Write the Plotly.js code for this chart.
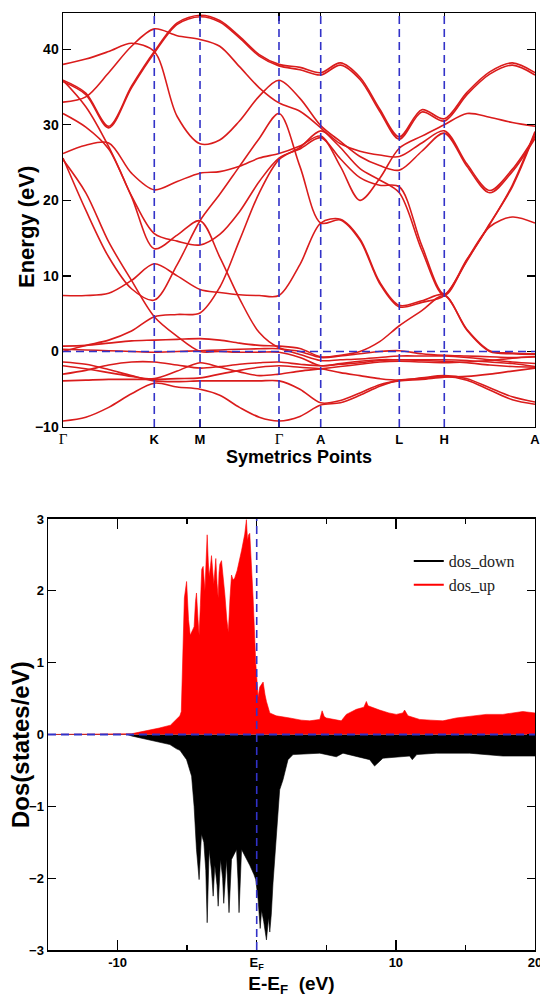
<!DOCTYPE html>
<html>
<head>
<meta charset="utf-8">
<script src="https://cdn.plot.ly/plotly-3.0.1.min.js"></script>
<style>html,body{margin:0;padding:0;background:#fff;}#chart{width:540px;height:1007px;}</style>
</head>
<body>
<div id="chart"></div>
<script>
// ---------- Band structure data ----------
// k-path coordinate (fraction of path length) for each sampled point
const kGrid = [0, 0.0483, 0.0968, 0.1451, 0.1934, 0.2419, 0.2903, 0.3321, 0.3739, 0.4158, 0.4576,
               0.5019, 0.5460, 0.5876, 0.6292, 0.6709, 0.7125, 0.7602, 0.8078, 0.8559, 0.9040, 0.9519, 1.0];
const kTicks = [0, 0.1934, 0.2903, 0.4576, 0.5460, 0.7125, 0.8078, 1.0];
const kLabels = ['Γ', 'K', 'M', 'Γ', 'A', 'L', 'H', 'A'];

// band energies (eV) at kGrid points
const bandA  = [38.0, 38.7, 39.7, 40.8, 39.7, 31.1, 27.5, 28.0, 30.5, 33.8, 35.9, 33.5, 29.9, 27.8, 25.8, 24.6, 24.0, 26.5, 28.9, 24.5, 21.0, 23.8, 28.2];
const bandB  = [33.0, 33.7, 36.9, 40.4, 42.7, 41.8, 41.3, 40.4, 37.7, 34.9, 32.9, 31.8, 29.6, 27.0, 24.2, 22.7, 21.0, 13.4, 7.4, 12.1, 16.8, 22.0, 29.1];
const bandC  = [35.9, 34.2, 29.8, 35.1, 39.7, 43.5, 44.5, 43.8, 41.7, 39.3, 38.0, 37.6, 36.9, 38.2, 36.3, 32.1, 28.4, 32.0, 30.8, 34.3, 37.0, 38.2, 36.9];
const bandC2 = [35.7, 34.0, 29.6, 34.9, 39.5, 43.3, 44.3, 43.6, 41.5, 39.1, 37.8, 37.3, 36.6, 37.9, 36.0, 31.8, 28.1, 31.7, 30.5, 34.0, 36.7, 37.9, 36.6];
const bandD  = [31.5, 29.7, 26.8, 20.6, 15.6, 14.6, 14.1, 15.5, 18.5, 22.5, 25.6, 26.8, 28.3, 25.5, 23.0, 22.0, 21.8, 14.0, 7.6, 12.2, 16.5, 17.8, 17.0];
const bandE  = [35.9, 32.4, 27.1, 20.5, 13.6, 15.4, 17.3, 12.5, 7.0, 2.5, 0.5, 0.0, -0.8, -0.6, -0.3, 0.0, 0.1, -0.3, -0.5, -0.6, -0.7, -0.8, -0.7];
const bandF  = [26.2, 27.3, 27.6, 23.6, 21.4, 22.5, 23.6, 23.8, 24.5, 25.6, 26.2, 27.2, 28.5, 24.5, 20.0, 22.9, 26.9, 28.5, 30.0, 31.5, 31.0, 30.3, 29.8];
const bandG  = [25.6, 18.7, 12.5, 8.3, 6.8, 11.5, 17.3, 20.8, 24.5, 28.2, 31.5, 24.5, 17.0, 17.4, 14.7, 9.0, 5.9, 6.5, 7.4, 12.0, 16.9, 21.8, 28.9];
const bandH  = [25.4, 21.0, 14.5, 9.4, 4.6, 2.0, 0.0, 0.0, -0.1, -0.1, -0.1, -0.8, -1.9, -1.6, -1.3, -1.1, -1.1, -1.1, -1.1, -1.2, -1.4, -1.6, -2.0];
const bandI  = [7.4, 7.4, 7.7, 9.4, 11.6, 10.0, 8.2, 7.8, 7.5, 7.4, 7.4, 11.5, 17.0, 17.5, 14.9, 9.2, 6.1, 6.7, 7.5, 2.8, 0.0, -0.3, -0.4];
const bandJ  = [0.0, 0.8, 1.5, 2.7, 4.6, 4.9, 5.1, 8.5, 14.7, 21.0, 25.4, 27.0, 29.2, 27.5, 26.5, 26.0, 25.8, 27.6, 29.2, 24.8, 21.3, 24.1, 28.5];
const bandK  = [0.7, 0.8, 1.1, 1.4, 1.5, 1.6, 1.7, 1.5, 1.1, 0.8, 0.7, 0.4, -0.7, -0.5, 0.0, 1.3, 3.4, 5.4, 7.4, 2.9, 0.1, -0.2, -0.3];
const bandL  = [0.3, 0.2, 0.1, 0.0, -0.1, 0.0, 0.1, 0.2, 0.3, 0.35, 0.35, -0.4, -1.2, -1.1, -1.0, -0.8, -0.6, -0.6, -0.6, -0.8, -1.1, -1.4, -1.6];
const bandM  = [-1.4, -1.7, -2.4, -3.2, -3.9, -4.0, -3.9, -3.9, -3.9, -3.9, -3.9, -5.0, -6.8, -6.5, -5.5, -4.4, -3.9, -3.7, -3.4, -3.3, -3.0, -2.6, -2.2];
const bandN  = [-1.9, -2.3, -2.8, -3.3, -3.6, -2.6, -1.5, -2.1, -2.7, -3.2, -3.0, -2.6, -2.3, -2.0, -1.7, -1.4, -1.3, -1.4, -1.5, -1.4, -1.2, -0.9, -0.7];
const bandO  = [-3.0, -2.5, -1.8, -1.4, -1.4, -1.8, -2.2, -2.0, -1.7, -1.5, -1.4, -1.7, -1.9, -1.7, -1.5, -1.2, -1.1, -1.2, -1.3, -1.5, -1.8, -2.0, -2.1];
const bandP  = [-3.9, -3.8, -3.7, -3.7, -3.7, -3.6, -3.5, -3.0, -2.5, -2.1, -1.9, -2.1, -2.3, -2.8, -3.2, -3.6, -3.8, -3.5, -3.2, -3.6, -4.8, -6.0, -6.7];
const bandQ  = [-9.2, -8.7, -7.4, -5.6, -4.2, -4.7, -5.0, -5.8, -7.4, -8.7, -9.2, -8.6, -7.1, -6.8, -5.8, -4.6, -3.8, -3.6, -3.3, -3.8, -5.1, -6.4, -7.0];

const bands = [bandA, bandB, bandC, bandC2, bandD, bandE, bandF, bandG, bandH, bandI, bandJ,
               bandK, bandL, bandM, bandN, bandO, bandP, bandQ];

// ---------- DOS data ----------
const dosUpE = [-15, -9.3, -9.0, -8.5, -7.7, -7.0, -6.2, -5.8, -5.52, -5.42, -5.3, -5.2, -5.04, -4.9, -4.78, -4.68, -4.5, -4.4, -4.33,
  -4.22, -4.14, -4.05, -3.95, -3.85, -3.72, -3.62, -3.56, -3.48, -3.42, -3.32, -3.25, -3.15, -3.08, -3.0, -2.94, -2.85, -2.77,
  -2.71, -2.65, -2.53, -2.4, -2.29, -2.15, -2.04, -1.92, -1.81, -1.7, -1.58, -1.41, -1.25, -1.09, -0.86, -0.74, -0.66, -0.58,
  -0.5, -0.38, -0.26, -0.07, 0.1, 0.22, 0.46, 0.6, 0.7, 0.94, 1.4, 2.37, 3.2, 3.81, 4.53, 4.7, 4.85, 5.0, 5.72, 6.08, 6.44,
  7.16, 7.7, 7.88, 8.0, 8.12, 8.83, 9.5, 10.03, 10.5, 10.63, 10.87, 11.71, 12.5, 13.38, 14.34, 15.29, 16.49, 17.69, 18.5, 19.12, 20];
const dosUp = [0, 0, 0.01, 0.03, 0.06, 0.09, 0.13, 0.2, 0.26, 0.32, 1.2, 1.9, 2.13, 1.6, 1.38, 1.42, 1.5, 1.85, 1.97,
  1.6, 1.38, 1.8, 2.3, 2.34, 2.0, 2.5, 2.78, 2.4, 2.2, 2.35, 2.49, 2.25, 2.1, 2.3, 2.45, 2.1, 1.9,
  2.25, 2.37, 2.42, 2.2, 1.95, 1.6, 1.42, 1.9, 2.22, 2.15, 2.18, 2.28, 2.4, 2.56, 2.79, 2.99, 2.7, 2.78,
  2.8, 2.4, 1.9, 1.0, 0.52, 0.66, 0.73, 0.55, 0.46, 0.3, 0.26, 0.23, 0.2, 0.19, 0.21, 0.33, 0.25, 0.23, 0.21, 0.19, 0.28,
  0.35, 0.38, 0.46, 0.4, 0.39, 0.34, 0.3, 0.28, 0.3, 0.34, 0.26, 0.21, 0.2, 0.19, 0.23, 0.25, 0.28, 0.28, 0.3, 0.32, 0.3];

const dosDownE = [-15, -9.3, -9.0, -8.0, -7.0, -6.24, -5.76, -5.52, -5.04, -4.68, -4.5, -4.33, -4.14, -3.97, -3.8, -3.66, -3.56,
  -3.42, -3.25, -3.13, -3.01, -2.85, -2.77, -2.6, -2.45, -2.37, -2.17, -2.06, -1.99, -1.81, -1.6, -1.45, -1.35, -1.27, -1.09,
  -0.8, -0.5, -0.2, -0.07, 0.1, 0.25, 0.35, 0.5, 0.7, 0.85, 0.94, 1.05, 1.17, 1.42, 1.65, 1.89, 2.25, 2.61, 4.53, 5.72, 6.2,
  8.12, 8.47, 9.07, 10.99, 11.18, 11.5, 12.9, 15.29, 17.69, 20];
const dosDown = [0, 0, -0.02, -0.06, -0.1, -0.14, -0.2, -0.22, -0.35, -0.58, -1.0, -1.6, -2.02, -1.39, -1.5, -1.89, -2.62,
  -1.6, -1.9, -2.25, -1.82, -2.1, -2.39, -1.74, -2.0, -2.35, -1.74, -2.1, -2.48, -1.74, -1.65, -1.6, -2.0, -2.48, -1.6,
  -1.7, -1.82, -1.95, -2.02, -2.3, -2.7, -2.45, -2.6, -2.86, -2.55, -2.75, -2.5, -2.07, -1.39, -0.77, -0.63, -0.35, -0.28, -0.26, -0.31, -0.26,
  -0.35, -0.44, -0.33, -0.3, -0.35, -0.28, -0.26, -0.26, -0.3, -0.3];

const dosTickVals = [-10, 0, 10, 20];
const dosTickText = ['-10', 'E<sub>F</sub>', '10', '20'];
const dosMinorTicks = [-5, 5, 15];
const energyTicks = [-10, 0, 10, 20, 30, 40];
const dosYTicks = [-3, -2, -1, 0, 1, 2, 3];

// ---------- Styles ----------
const RED = 'rgb(218,28,28)';
const BLUE = 'rgb(50,50,200)';
const SANS = 'Liberation Sans, Arial, sans-serif';
const SERIF = 'Liberation Serif, Times New Roman, serif';
const tickFont = {family: SANS, size: 13, color: '#000', weight: 'bold'};

const traces = [];
bands.forEach(b => {
  traces.push({
    x: kGrid, y: b, xaxis: 'x', yaxis: 'y', type: 'scatter', mode: 'lines',
    line: {color: RED, width: 1.6, shape: 'spline', smoothing: 0.9},
    showlegend: false, hoverinfo: 'skip'
  });
});

traces.push({
  x: dosDownE, y: dosDown, xaxis: 'x2', yaxis: 'y2', type: 'scatter', mode: 'lines',
  fill: 'tozeroy', fillcolor: '#000', line: {color: '#000', width: 0.6},
  name: 'dos_down', showlegend: false, hoverinfo: 'skip'
});
traces.push({
  x: dosUpE, y: dosUp, xaxis: 'x2', yaxis: 'y2', type: 'scatter', mode: 'lines',
  fill: 'tozeroy', fillcolor: 'rgb(255,0,0)', line: {color: 'rgb(255,0,0)', width: 0.6},
  name: 'dos_up', showlegend: false, hoverinfo: 'skip'
});
// legend entries (line samples)
traces.push({x: [null], y: [null], xaxis: 'x2', yaxis: 'y2', type: 'scatter', mode: 'lines',
  line: {color: '#000', width: 2}, name: 'dos_down', showlegend: true});
traces.push({x: [null], y: [null], xaxis: 'x2', yaxis: 'y2', type: 'scatter', mode: 'lines',
  line: {color: 'rgb(255,0,0)', width: 2}, name: 'dos_up', showlegend: true});

const shapes = [];
kTicks.slice(1, -1).forEach(k => {
  shapes.push({type: 'line', xref: 'x', yref: 'y domain', x0: k, x1: k, y0: 0, y1: 1,
    line: {color: BLUE, width: 1.6, dash: '8px,5px'}});
});
shapes.push({type: 'line', xref: 'x domain', yref: 'y', x0: 0, x1: 1, y0: 0, y1: 0,
  line: {color: BLUE, width: 1.6, dash: '8px,5px'}});
shapes.push({type: 'line', xref: 'x2 domain', yref: 'y2', x0: 0, x1: 1, y0: 0, y1: 0,
  line: {color: BLUE, width: 1.8, dash: '8px,5px'}});
shapes.push({type: 'line', xref: 'x2', yref: 'y2 domain', x0: 0, x1: 0, y0: 0, y1: 1,
  line: {color: BLUE, width: 1.6, dash: '8px,5px'}});

const kText = kLabels.map(l => l === 'Γ'
  ? '<span style="font-family:Liberation Serif;font-weight:normal;font-size:15px">Γ</span>' : l);

const axCommon = {
  showline: true, linecolor: '#000', linewidth: 1.5, mirror: 'ticks',
  ticks: 'inside', tickcolor: '#000', tickwidth: 1.3, showgrid: false, zeroline: false,
  tickfont: tickFont, automargin: false, ticklabeloverflow: 'allow'
};

const annotations = [
  {text: 'Energy (eV)', xref: 'paper', yref: 'paper', x: 26 / 540, y: (1007 - 227) / 1007,
   textangle: -90, showarrow: false, xanchor: 'center', yanchor: 'middle',
   font: {family: SANS, size: 22, color: '#000', weight: 'bold'}},
  {text: 'Dos(states/eV)', xref: 'paper', yref: 'paper', x: 20 / 540, y: (1007 - 745) / 1007,
   textangle: -90, showarrow: false, xanchor: 'center', yanchor: 'middle',
   font: {family: SANS, size: 24, color: '#000', weight: 'bold'}}
];

const layout = {
  width: 540, height: 1007,
  margin: {l: 0, r: 0, t: 0, b: 0},
  paper_bgcolor: '#fff', plot_bgcolor: '#fff',
  showlegend: true,
  legend: {x: 0.757, y: 0.4598, xanchor: 'left', yanchor: 'top', bgcolor: 'rgba(0,0,0,0)',
    font: {family: SERIF, size: 16, color: '#222'}, itemwidth: 30, tracegroupgap: 0},
  xaxis: Object.assign({}, axCommon, {
    domain: [0.11667, 0.99074], range: [0, 1], anchor: 'y',
    tickmode: 'array', tickvals: kTicks, ticktext: kText, ticklen: 8,
    title: {text: 'Symetrics Points', font: {family: SANS, size: 18, color: '#000', weight: 'bold'}, standoff: 4}
  }),
  yaxis: Object.assign({}, axCommon, {
    domain: [0.57597, 0.98709], range: [-10, 44.8], anchor: 'x',
    tickmode: 'array', tickvals: energyTicks, ticklen: 8,
    tickfont: {family: SANS, size: 14, color: '#000', weight: 'bold'}
  }),
  xaxis2: Object.assign({}, axCommon, {
    domain: [0.08889, 0.99074], range: [-15, 20], anchor: 'y2',
    tickmode: 'array', tickvals: dosTickVals, ticktext: dosTickText, ticklen: 10,
    minor: {tickmode: 'array', tickvals: dosMinorTicks, ticks: 'inside', ticklen: 5, tickcolor: '#000', tickwidth: 1.3},
    title: {text: 'E-E<sub>F</sub>  (eV)', font: {family: SANS, size: 19, color: '#000', weight: 'bold'}, standoff: 6}
  }),
  yaxis2: Object.assign({}, axCommon, {
    domain: [0.0566, 0.48461], range: [-3, 3], anchor: 'x2',
    tickmode: 'array', tickvals: dosYTicks, ticklen: 8
  }),
  shapes: shapes,
  annotations: annotations
};

Plotly.newPlot('chart', traces, layout, {displayModeBar: false, staticPlot: true});
</script>
</body>
</html>
